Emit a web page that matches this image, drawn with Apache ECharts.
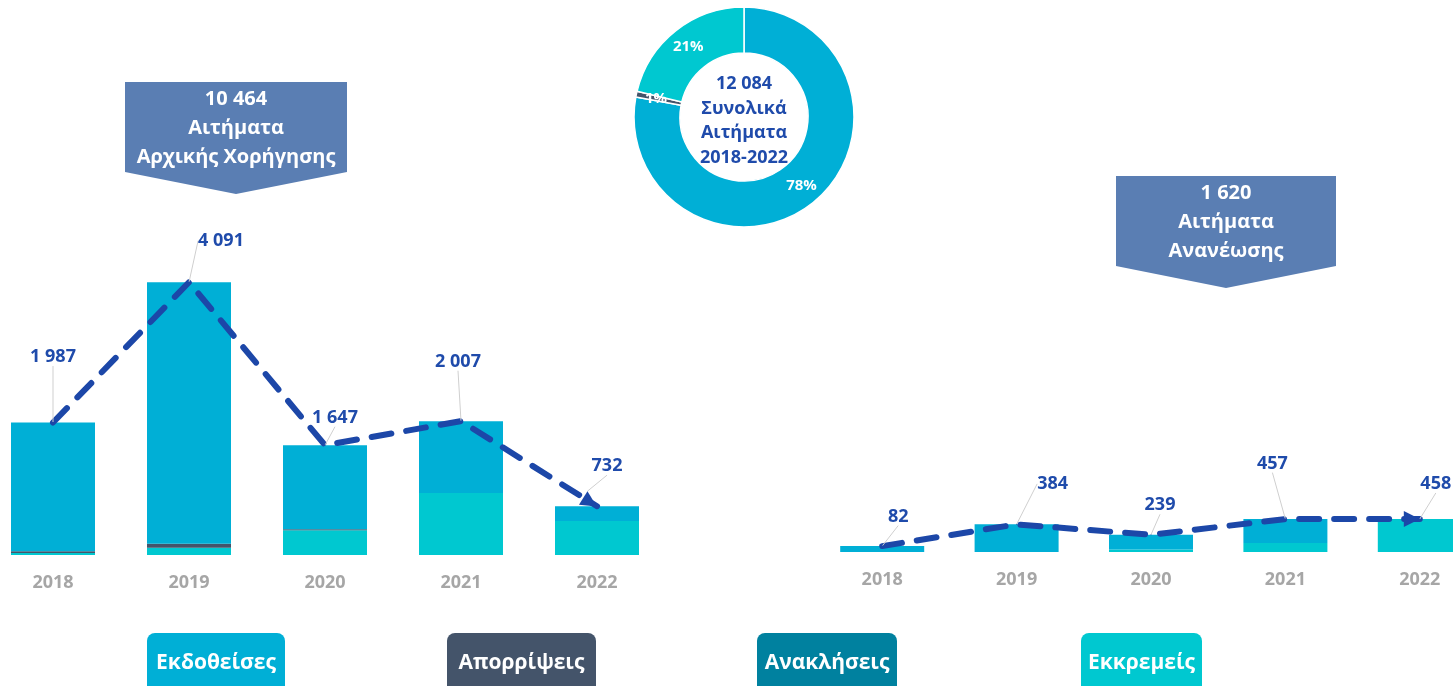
<!DOCTYPE html>
<html>
<head>
<meta charset="utf-8">
<script src="https://cdn.jsdelivr.net/npm/echarts@6/dist/echarts.min.js"></script>
<style>
  html, body { margin: 0; padding: 0; background: #fff; }
  #chart { width: 1453px; height: 686px; }
</style>
</head>
<body>
<div id="chart"></div>
<script>
  // years on both bar charts
  var years = ['2018', '2019', '2020', '2021', '2022'];

  // initial grant requests (left)
  var initIssued   = [1932, 3921, 1262, 1077, 221];
  var initRejected = [25, 60, 15, 0, 0];
  var initRevoked  = [0, 0, 0, 0, 0];
  var initPending  = [30, 110, 370, 930, 511];
  var initTotals   = [1987, 4091, 1647, 2007, 732];

  // renewal requests (right)
  var renIssued   = [82, 384, 206, 331, 0];
  var renRejected = [0, 0, 0, 0, 0];
  var renRevoked  = [0, 0, 0, 0, 0];
  var renPending  = [0, 0, 33, 126, 458];
  var renTotals   = [82, 384, 239, 457, 458];

  // donut: issued / rejected / pending over 2018-2022
  var pieNames  = ['Εκδοθείσες', 'Απορρίψεις', 'Εκκρεμείς'];
  var pieValues = [9416, 100, 2568];

  var legendNames = ['Εκδοθείσες', 'Απορρίψεις', 'Ανακλήσεις', 'Εκκρεμείς'];

  var C_ISSUED = '#00afd6', C_REJ = '#44546a', C_REV = '#00819f', C_PEND = '#00c8d0';
  var C_LINE = '#1c47a8', C_BOX = '#5a7eb3';
  var FONT = "'Open Sans', 'Noto Sans', sans-serif";

  // label offsets (dx, dy) for the total labels
  var leftOffsets  = [[0, -51], [32, -27], [10, -13], [-3, -45], [17, -11]];
  var rightOffsets = [[16, -15], [36, -26], [9, -15], [-13, -41], [24, -13]];

  var chart = echarts.init(document.getElementById('chart'));

  function fmt(v) {
    return String(v).replace(/\B(?=(\d{3})+(?!\d))/g, ' ');
  }

  function barSeries(name, data, color, idx) {
    return {
      name: name, type: 'bar', stack: 's' + idx,
      xAxisIndex: idx, yAxisIndex: idx,
      barWidth: 84, data: data,
      itemStyle: { color: color },
      emphasis: { disabled: true }
    };
  }

  // arrow: rotation + offset so the tip sits on the last point
  function lineSeries(totals, idx, offsets, arrowRot, arrowOff) {
    var data = totals.map(function (v, i) {
      if (i === totals.length - 1) {
        return { value: v, symbol: 'triangle', symbolSize: [16, 16], symbolRotate: arrowRot, symbolOffset: arrowOff };
      }
      return v;
    });
    return {
      type: 'line', xAxisIndex: idx, yAxisIndex: idx,
      data: data, z: 5,
      symbol: 'circle', symbolSize: 1, showSymbol: true,
      itemStyle: { color: C_LINE },
      lineStyle: { color: C_LINE, width: 6, type: [20, 15], cap: 'round' },
      label: {
        show: true, position: 'top', distance: 5,
        color: '#1f4bab', fontSize: 18, fontWeight: 'bold', fontFamily: FONT,
        formatter: function (p) { return fmt(p.value); }
      },
      labelLine: { show: true, lineStyle: { color: '#cfcfcf', width: 1 } },
      labelLayout: function (p) {
        var o = offsets[p.dataIndex];
        return { dx: o[0], dy: o[1] };
      },
      emphasis: { disabled: true }
    };
  }

  var axisLabel = { color: '#a6a6a6', fontSize: 18, fontWeight: 'bold', fontFamily: FONT, margin: 19 };

  var callout = function (x, y, w, h, tip, lines) {
    return [
      {
        type: 'polygon',
        shape: { points: [[x, y], [x + w, y], [x + w, y + h], [x + w / 2, y + h + tip], [x, y + h]] },
        style: { fill: C_BOX }
      },
      {
        type: 'text', x: x + w / 2, y: y + 3,
        style: {
          text: lines.join('\n'), fill: '#fff', align: 'center', verticalAlign: 'top',
          font: 'bold 20px ' + FONT, lineHeight: 29
        }
      }
    ];
  };

  var legendBoxes = [[147, 138, C_ISSUED], [447, 149, C_REJ], [757, 140, C_REV], [1081, 121, C_PEND]];
  var legendGraphics = [];
  legendBoxes.forEach(function (b, i) {
    legendGraphics.push({
      type: 'rect', shape: { x: b[0], y: 633, width: b[1], height: 70, r: 8 },
      style: { fill: b[2] }
    });
    legendGraphics.push({
      type: 'text', x: b[0] + b[1] / 2, y: 663,
      style: {
        text: legendNames[i], fill: '#fff', align: 'center', verticalAlign: 'middle',
        font: 'bold 21px ' + FONT
      }
    });
  });

  var option = {
    animation: false,
    grid: [
      { left: -15, width: 680, top: 155, bottom: 131, outerBoundsMode: 'none', containLabel: false },
      { left: 815, width: 672, top: 120, bottom: 134, outerBoundsMode: 'none', containLabel: false }
    ],
    xAxis: [
      { type: 'category', gridIndex: 0, data: years, axisLine: { show: false }, axisTick: { show: false }, axisLabel: axisLabel },
      { type: 'category', gridIndex: 1, data: years, axisLine: { show: false }, axisTick: { show: false }, axisLabel: axisLabel }
    ],
    yAxis: [
      { type: 'value', gridIndex: 0, min: 0, max: 6000, show: false, splitLine: { show: false } },
      { type: 'value', gridIndex: 1, min: 0, max: 6000, show: false, splitLine: { show: false } }
    ],
    series: [
      barSeries('Εκκρεμείς', initPending, C_PEND, 0),
      barSeries('Απορρίψεις', initRejected, C_REJ, 0),
      barSeries('Ανακλήσεις', initRevoked, C_REV, 0),
      barSeries('Εκδοθείσες', initIssued, C_ISSUED, 0),
      barSeries('Εκκρεμείς', renPending, C_PEND, 1),
      barSeries('Απορρίψεις', renRejected, C_REJ, 1),
      barSeries('Ανακλήσεις', renRevoked, C_REV, 1),
      barSeries('Εκδοθείσες', renIssued, C_ISSUED, 1),
      lineSeries(initTotals, 0, leftOffsets, -122, [-7, -4]),
      lineSeries(renTotals, 1, rightOffsets, -90, [-8, 0]),
      {
        type: 'pie', center: [744, 117], radius: [64, 110],
        startAngle: 90, clockwise: true,
        itemStyle: { borderColor: '#fff', borderWidth: 1.5 },
        label: {
          show: true, position: 'inside', color: '#fff', fontSize: 15, fontWeight: 'bold', fontFamily: FONT,
          formatter: function (p) { return Math.round(p.percent) + '%'; }
        },
        labelLine: { show: false },
        emphasis: { disabled: true },
        data: pieNames.map(function (n, i) {
          return { name: n, value: pieValues[i], itemStyle: { color: [C_ISSUED, C_REJ, C_PEND][i] } };
        })
      }
    ],
    graphic: [].concat(
      callout(125, 82, 222, 90, 22, ['10 464', 'Αιτήματα', 'Αρχικής Χορήγησης']),
      callout(1116, 176, 220, 90, 22, ['1 620', 'Αιτήματα', 'Ανανέωσης']),
      [{
        type: 'text', x: 744, y: 121,
        style: {
          text: '12 084\nΣυνολικά\nΑιτήματα\n2018-2022', fill: '#1f4bab', align: 'center', verticalAlign: 'middle',
          font: 'bold 18px ' + FONT, lineHeight: 24.5
        }
      }],
      legendGraphics
    )
  };

  chart.setOption(option);
</script>
</body>
</html>
